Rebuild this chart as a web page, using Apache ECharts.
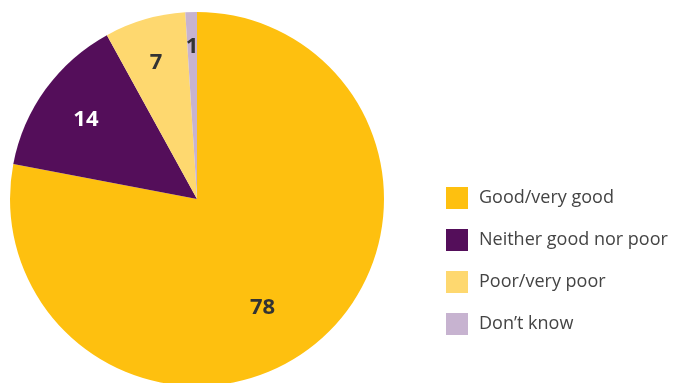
<!DOCTYPE html>
<html>
<head>
<meta charset="utf-8">
<script src="https://cdn.jsdelivr.net/npm/echarts@6/dist/echarts.min.js"></script>
<style>
  html, body { margin: 0; padding: 0; background: #ffffff; }
  #chart { width: 673px; height: 383px; }
</style>
</head>
<body>
<div id="chart"></div>
<script>
// Survey responses, percent of respondents
const categories = ['Good/very good', 'Neither good nor poor', 'Poor/very poor', 'Don\u2019t know'];
const values = [78, 14, 7, 1];
const colors = ['#FEC00F', '#540E5A', '#FED86F', '#C7B3D0'];
const labelColors = ['#333333', '#ffffff', '#333333', '#333333'];
// Label nudges from the default inside position
const labelOffsets = [[4, 34], [-33, -23], [-14, -44], [-2, -56]];

const chart = echarts.init(document.getElementById('chart'), null, { renderer: 'canvas' });

const data = categories.map((name, i) => ({
  name: name,
  value: values[i],
  itemStyle: { color: colors[i] },
  label: { color: labelColors[i], offset: labelOffsets[i] }
}));

chart.setOption({
  animation: false,
  backgroundColor: '#ffffff',
  legend: {
    orient: 'vertical',
    left: 441,
    top: 182,
    icon: 'rect',
    itemWidth: 22,
    itemHeight: 22,
    itemGap: 20,
    data: categories,
    textStyle: {
      fontFamily: 'Open Sans',
      fontSize: 18,
      color: '#444444',
      padding: [0, 0, 0, 6]
    }
  },
  series: [{
    type: 'pie',
    center: [197, 199],
    radius: [0, 187],
    startAngle: 90,
    clockwise: true,
    silent: true,
    label: {
      show: true,
      position: 'inside',
      formatter: '{c}',
      fontFamily: 'Open Sans',
      fontWeight: 'bold',
      fontSize: 22
    },
    labelLine: { show: false },
    itemStyle: { borderWidth: 0 },
    emphasis: { disabled: true },
    data: data
  }]
});
</script>
</body>
</html>
